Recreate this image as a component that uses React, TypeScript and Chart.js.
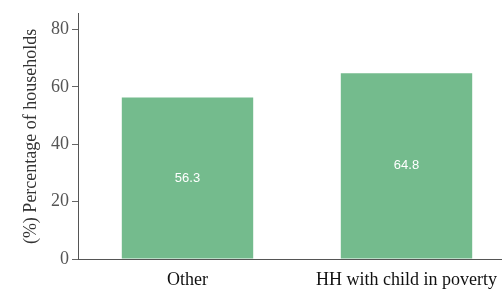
import React, { useEffect, useRef } from "react";
import { Chart, registerables } from "chart.js";

Chart.register(...registerables);

const categories = ["Other", "HH with child in poverty"];
const values = [56.3, 64.8];
const yTicks = [0, 20, 40, 60, 80];
const yTitle = "(%) Percentage of households";

const valueLabels = {
  id: "valueLabels",
  afterDatasetsDraw(chart: any) {
    const ctx = chart.ctx;
    const meta = chart.getDatasetMeta(0);
    ctx.save();
    ctx.fillStyle = "#ffffff";
    ctx.font = "13px 'Liberation Sans', sans-serif";
    ctx.textAlign = "center";
    ctx.textBaseline = "middle";
    meta.data.forEach((bar: any, i: number) => {
      const p = bar.getProps(["x", "y", "base"], true);
      ctx.fillText(String(values[i]), p.x, (p.y + p.base) / 2);
    });
    ctx.restore();
  },
};

export default function App() {
  const ref = useRef<HTMLCanvasElement>(null);
  useEffect(() => {
    if (!ref.current) return;
    const serif = "'Liberation Serif', 'Times New Roman', serif";
    const chart = new Chart(ref.current, {
      type: "bar",
      data: {
        labels: categories,
        datasets: [
          {
            data: values,
            backgroundColor: "#74bb8d",
            barPercentage: 0.6,
            categoryPercentage: 1,
          },
        ],
      },
      options: {
        responsive: false,
        animation: false,
        layout: { padding: { top: 12, right: 0, left: 0, bottom: 0 } },
        plugins: { legend: { display: false }, tooltip: { enabled: false } },
        scales: {
          x: {
            grid: { display: false, drawTicks: false },
            border: { display: true, color: "#555" },
            ticks: { color: "#111", font: { family: serif, size: 18 }, padding: 10 },
            afterFit: (s: any) => {
              s.height = 30;
            },
          },
          y: {
            min: 0,
            max: 85.5,
            grid: { display: true, drawOnChartArea: false, tickLength: 6, color: "#666" },
            border: { display: true, color: "#555" },
            ticks: {
              stepSize: 20,
              includeBounds: false,
              color: "#555",
              padding: 3,
              font: { family: serif, size: 18 },
              callback: (v: any) => (yTicks.includes(Number(v)) ? String(v) : ""),
            },
            title: {
              display: true,
              text: yTitle,
              color: "#333",
              font: { family: serif, size: 18 },
              padding: { top: 20, bottom: 0 },
            },
            afterFit: (s: any) => {
              s.width = 78;
            },
          },
        },
      },
      plugins: [valueLabels],
    });
    return () => chart.destroy();
  }, []);
  return (
    <div
      style={{
        position: "fixed",
        left: 0,
        top: 0,
        width: 502,
        height: 289,
        overflow: "hidden",
        background: "#fff",
      }}
    >
      <canvas ref={ref} width={516} height={289} style={{ width: 516, height: 289, display: "block" }} />
    </div>
  );
}
